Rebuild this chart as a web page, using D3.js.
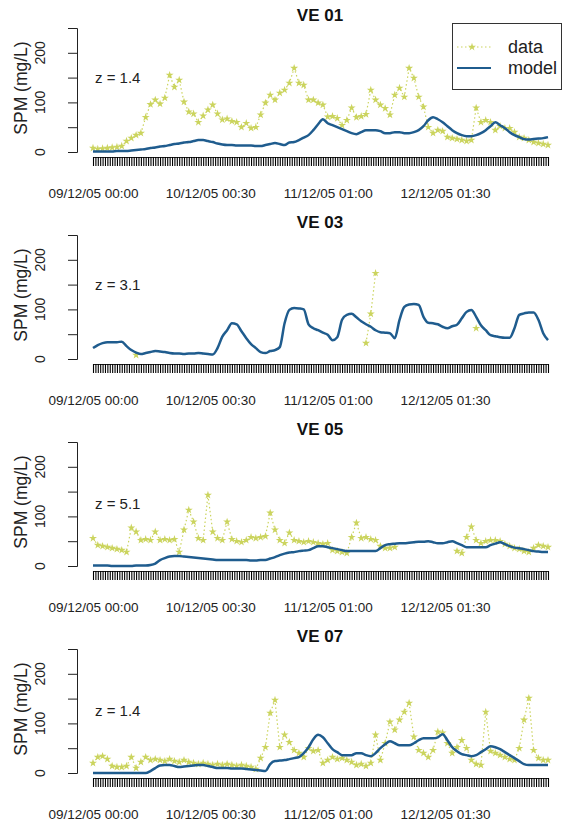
<!DOCTYPE html>
<html>
<head>
<meta charset="utf-8">
<script src="https://cdn.jsdelivr.net/npm/d3@7"></script>
<style>
  html, body { margin: 0; padding: 0; background: #fff; }
  svg { display: block; font-family: "Liberation Sans", Arial, sans-serif; }
</style>
</head>
<body>
<svg id="chart" width="563" height="828"></svg>
<script>
// Stations, depth labels and where the depth label sits (in mg/L)
const stations = ["VE 01", "VE 03", "VE 05", "VE 07"];
const depthLabels = ["z = 1.4", "z = 3.1", "z = 5.1", "z = 1.4"];
const depthLabelAt = [150, 150, 125, 125];

// Hourly series starting 09/12/05 00:00
const startTime = Date.UTC(2005, 11, 9, 0, 0);
const yTicks = [0, 50, 100, 150, 200, 250];
const yLabelled = [0, 100, 200];
const legendLabels = ["data", "model"];

// VE 01
const ve01Data = [8,6,7,8,9,10, 12,22,28,34,38, 70,96,105,97,109, 155,131,145,101,81,
  77,60,73,85,95, 77,65,67,62,60, 50,58,48,50,75, 99,115,105,119,125, 139,169,139,135,105,
  105,99,95,71,72, 68,54,64,89,70, 72,76,125,105,95, 88,75,115,129,111, 169,149,111,91,50,
  38,44,42,30,28, 26,24,22,24,89, 60,64,60,44,52, 48,48,40,30,28, 24,20,18,16,14];
const ve01Model = [1,1,1,1,1,2,2,2, 3,4,5,6,8, 9,11,12,14,16, 17,19,20,22,24, 24,22,20,17,15,
  14,14,13,13,13, 13,12,12,14,16, 18,16,14,19, 20,24,29,34,44,56, 66,58,54,50,46,
  42,38,36,40,44, 44,44,42,38,38, 40,40,38,38,40, 44,52,64,70,66, 60,52,44,38,34,
  32,32,34,38,44, 52,60,54,48,40, 34,30,26,25,26, 27,28,30];

// VE 03 (few observations)
const ve03Data = [null,null,null,null,null,null, null,null,null,8,null, null,null,null,null,null,
  null,null,null,null,null, null,null,null,null,null, null,null,null,null,null, null,null,null,null,null,
  null,null,null,null,null, null,null,null,null,null, null,null,null,null,null, null,null,null,null,null,
  null,32,91,173,null, null,null,null,null,null, null,null,null,null,null, null,null,null,null,null,
  null,null,null,null,62, null,null,null,null,null, null,null,null,null,null, null,null,null,null,null];
const ve03Model = [22,28,32,34,34,34, 35,26,18,13,10, 12,14,16,15,14, 12,11,11,10,11,
  11,12,11,10,9, 22,45,58,72,70, 56,42,30,22,14, 12,16,18,24,72, 99,103,102,100,70,
  62,58,53,49,38, 44,79,89,91,84, 76,70,65,58,54, 53,52,42,79,105, 110,111,109,85,73,
  72,70,65,62,66, 69,82,95,99,85, 68,58,48,46,44, 43,43,62,89,92, 94,94,79,52,38];

// VE 05
const ve05Data = [56,42,40,38,36,34, 32,28,77,69,52, 54,52,69,52,54, 52,54,28,73,113,
  89,56,52,143,69, 56,52,89,54,50, 48,52,58,56,58, 60,107,73,52,46, 67,52,50,48,50,
  48,46,44,46,32, 30,28,26,58,87, 56,58,54,52,40, 36,36,38,null,null,
  null,null,null,null,null, null,null,null,null,null, 30,26,58,79,52, 46,50,52,52,50,
  44,40,36,34,30, 28,36,42,40,38];
const ve05Model = [1,1,1,1,0,0, 0,0,0,1,1, 1,2,5,12,16, 19,20,20,19,18, 17,16,15,14,13,
  12,12,12,12,12, 12,12,11,11,12, 12,15,18,22,25, 27,28,30,31,32, 36,40,40,38,36,
  34,32,30,30,30, 30,30,30,30,36, 42,44,45,46,46, 47,48,49,49,50, 48,46,46,48,50,
  46,42,38,38,38, 38,38,42,45,48, 44,40,37,36,34, 32,30,29,28,28];

// VE 07
const ve07Data = [20,32,34,28,14,12, 12,14,32,10,22, 32,26,28,26,24, 28,24,22,26,22,
  20,18,20,18,16, 18,16,18,16,14, 16,14,12,8,30, 52,121,147,52,77, 62,46,40,32,50,
  44,46,20,26,32, 28,30,26,22,16, 18,14,20,77,26, 60,103,87,107,123, 141,73,46,40,32,
  46,83,81,60,40, 52,66,50,26,18, 16,123,44,40,36, 32,28,26,50,107, 151,46,30,26,26];
const ve07Model = [0,0,0,0,0,0, 0,0,0,0,0, 0,4,10,15,16, 16,14,12,13,14, 15,16,16,14,12,
  10,10,10,9,9, 9,8,7,6,5, 4,18,24,25,26, 28,30,32,40,52, 68,77,72,60,48,
  42,36,36,36,40, 40,36,34,40,50, 58,64,60,56,56, 56,60,66,70,70, 70,72,78,66,52,
  44,38,36,34,36, 42,48,54,52,48, 42,36,30,24,18, 16,16,16,16,16];

const observed = [ve01Data, ve03Data, ve05Data, ve07Data];
const modelled = [ve01Model, ve03Model, ve05Model, ve07Model];

const dataColor = "#cbd45e";
const modelColor = "#1f5c8e";
const ink = "#222";
const hour = 3600 * 1000;

const svg = d3.select("#chart");
const fmt = d3.utcFormat("%d/%m/%y %H:%M");
const star = d3.symbol().type(d3.symbolStar).size(20);

const panelStep = 207;
const nHours = ve01Model.length;
const endTime = startTime + (nHours - 1) * hour;

stations.forEach((name, p) => {
  const off = p * panelStep;
  const g = svg.append("g");

  const x = d3.scaleUtc().domain([new Date(startTime), new Date(endTime)]).range([93, 548]);
  const y = d3.scaleLinear().domain([0, 250]).range([152 + off, 28 + off]);

  const rowsObs = observed[p].map((v, i) => ({ t: new Date(startTime + i * hour), v }));
  const rowsMod = modelled[p].map((v, i) => ({ t: new Date(startTime + i * hour), v }));

  // Title
  g.append("text").attr("x", 320).attr("y", 21 + off)
    .attr("text-anchor", "middle").attr("font-weight", "bold").attr("font-size", 17)
    .attr("fill", "#111").text(name);

  // Y axis: ticks from the axis, labels turned to read upwards
  const yAxis = d3.axisLeft(y).tickValues(yTicks).tickSize(9).tickFormat("");
  const ya = g.append("g").attr("transform", "translate(77,0)").call(yAxis);
  ya.select(".domain").attr("stroke", ink);
  ya.selectAll(".tick line").attr("stroke", ink);
  yLabelled.forEach(v => {
    g.append("g").attr("transform", "translate(45," + y(v) + ")")
      .append("text")
      .attr("transform", "rotate(-90)")
      .attr("text-anchor", "middle")
      .attr("font-size", 14).attr("fill", ink)
      .text(String(v));
  });

  g.append("text")
    .attr("transform", `translate(27,${88 + off}) rotate(-90)`)
    .attr("text-anchor", "middle").attr("font-size", 17.5).attr("fill", ink)
    .text("SPM (mg/L)");

  // X axis: one tick per half hour, a date label every 49 ticks
  const tickTimes = d3.utcMinute.every(30).range(new Date(startTime), new Date(endTime + 1));
  const xAxis = d3.axisBottom(x).tickValues(tickTimes).tickSize(9).tickPadding(22)
    .tickFormat((d, i) => i % 49 === 0 ? fmt(d) : "");
  const xa = g.append("g").attr("transform", `translate(0,${157 + off})`).call(xAxis);
  xa.select(".domain").attr("stroke", ink);
  xa.selectAll(".tick line").attr("stroke", "#000").attr("stroke-width", 1.1);
  xa.selectAll(".tick text").attr("font-size", 13.5).attr("fill", ink);

  // Depth label
  g.append("text").attr("x", 95).attr("y", y(depthLabelAt[p]) + 5)
    .attr("font-size", 15).attr("fill", ink).text(depthLabels[p]);

  // Observations: dotted connector + stars
  const obsLine = d3.line().defined(d => d.v != null).x(d => x(d.t)).y(d => y(d.v));
  g.append("path").datum(rowsObs).attr("d", obsLine)
    .attr("fill", "none").attr("stroke", dataColor).attr("stroke-width", 1.2)
    .attr("stroke-dasharray", "1.5,2.5");
  g.append("g").selectAll("path").data(rowsObs.filter(d => d.v != null)).join("path")
    .attr("d", star).attr("transform", d => `translate(${x(d.t)},${y(d.v)})`)
    .attr("fill", dataColor);

  // Model
  const modLine = d3.line().curve(d3.curveMonotoneX).x(d => x(d.t)).y(d => y(d.v));
  g.append("path").datum(rowsMod).attr("d", modLine)
    .attr("fill", "none").attr("stroke", modelColor).attr("stroke-width", 2.5)
    .attr("stroke-linejoin", "round");
});

// Legend (first panel)
const lg = svg.append("g");
lg.append("rect").attr("x", 452.5).attr("y", 23.5).attr("width", 109).attr("height", 66)
  .attr("fill", "#fff").attr("stroke", "#333");
lg.append("line").attr("x1", 457).attr("x2", 491).attr("y1", 47).attr("y2", 47)
  .attr("stroke", dataColor).attr("stroke-width", 1.2).attr("stroke-dasharray", "1.5,2.5");
lg.append("path").attr("d", star).attr("transform", "translate(472,47)").attr("fill", dataColor);
lg.append("line").attr("x1", 457).attr("x2", 491).attr("y1", 68).attr("y2", 68)
  .attr("stroke", modelColor).attr("stroke-width", 2);
legendLabels.forEach((t, i) => {
  lg.append("text").attr("x", 508).attr("y", 53 + i * 21)
    .attr("font-size", 18).attr("fill", ink).text(t);
});
</script>
</body>
</html>
